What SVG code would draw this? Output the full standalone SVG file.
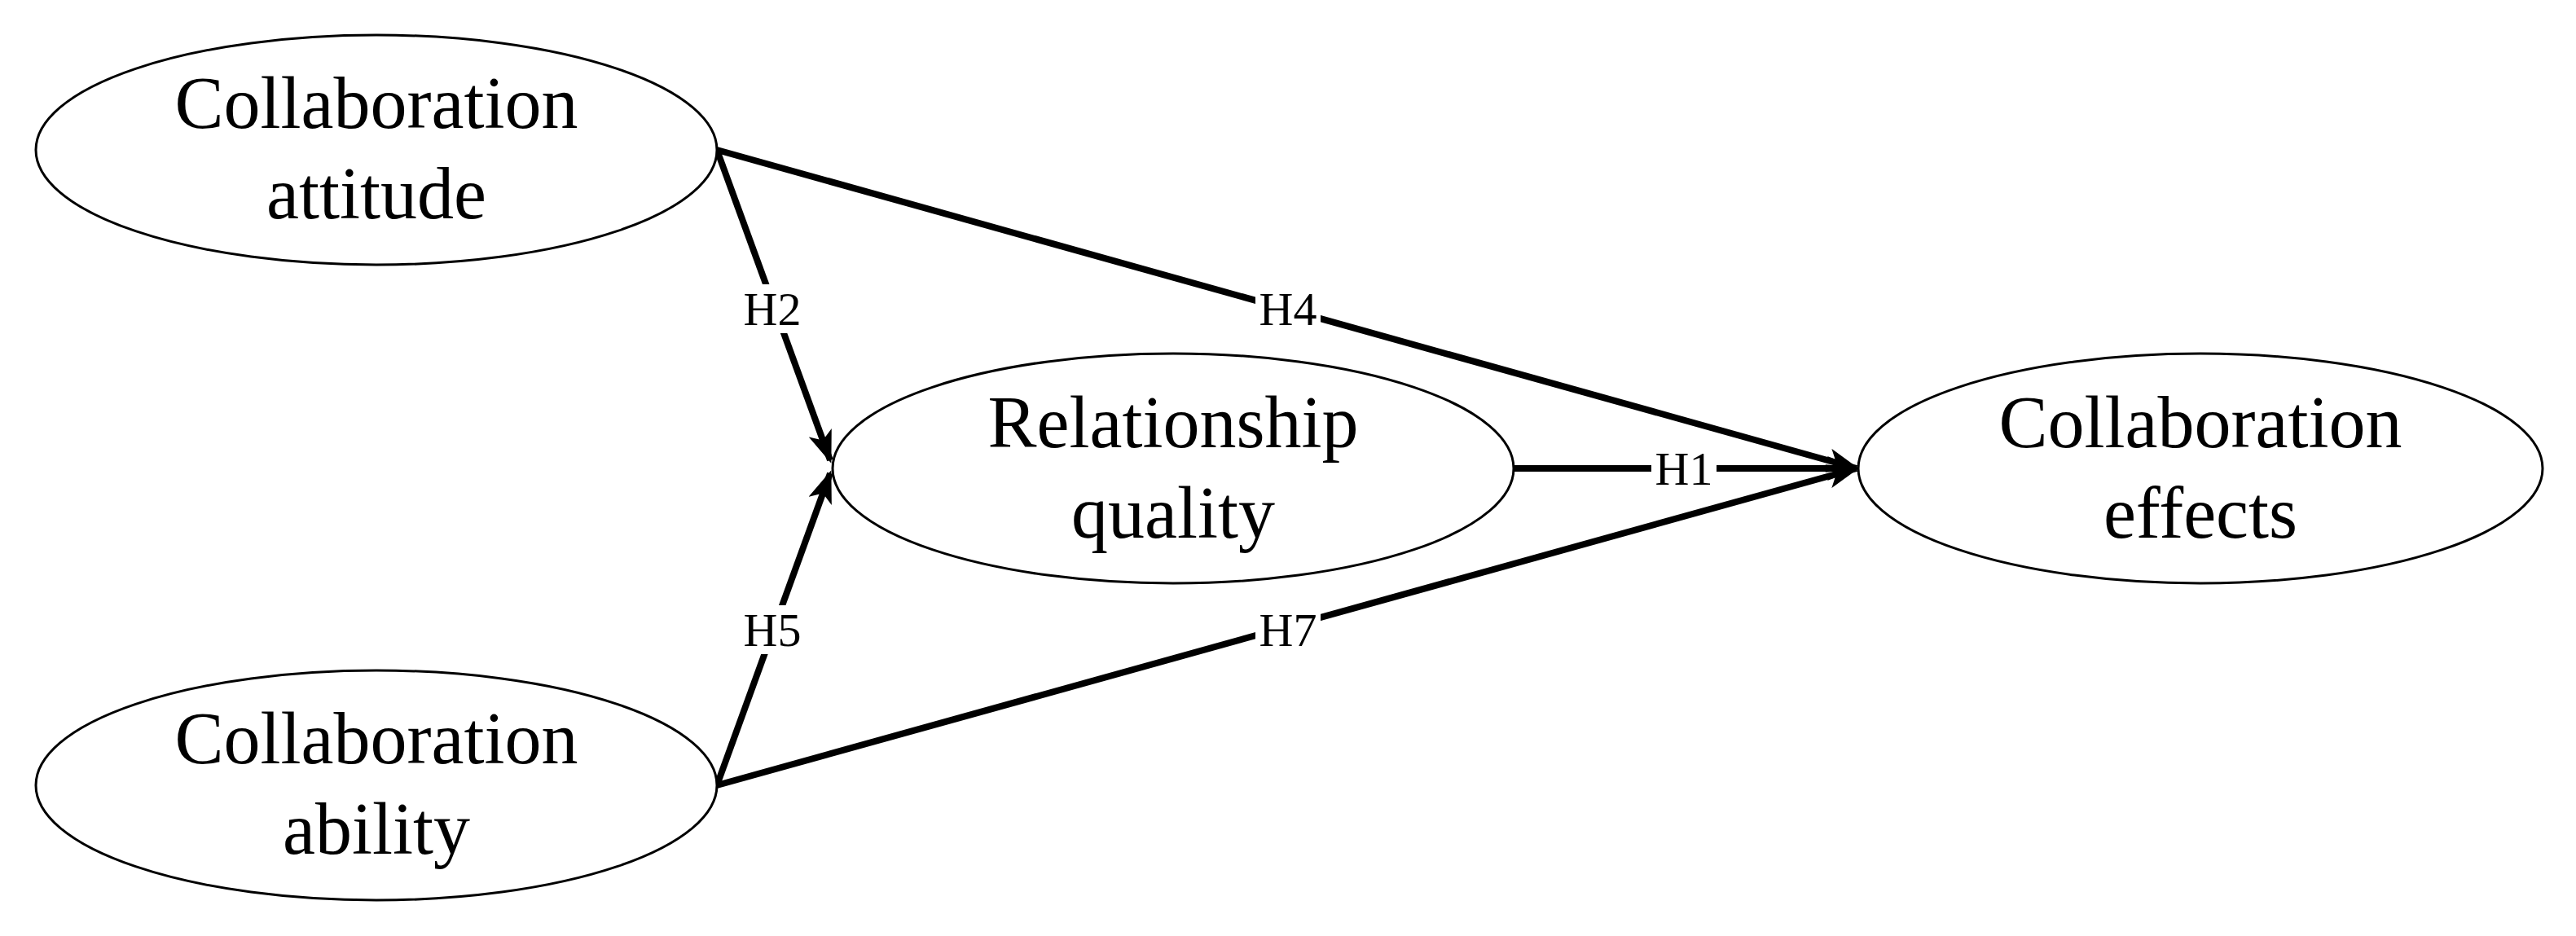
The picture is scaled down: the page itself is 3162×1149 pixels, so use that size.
<svg xmlns="http://www.w3.org/2000/svg" width="3162" height="1149" viewBox="0 0 3162 1149">
<style>
.n{fill:#fff;stroke:#000;stroke-width:3}
.t{font-family:"Liberation Serif","DejaVu Serif",serif;font-size:90px;text-anchor:middle}
.l{font-family:"Liberation Serif","DejaVu Serif",serif;font-size:58px;text-anchor:middle;dominant-baseline:central}
.e{stroke:#000;stroke-width:8;fill:none;marker-end:url(#a)}
.b{fill:#fff}
</style>
<defs><marker id="a" markerUnits="userSpaceOnUse" markerWidth="40" markerHeight="30" refX="36" refY="15" orient="auto"><path d="M0,0 L40,15 L0,30 L10,15 Z" fill="#000"/></marker></defs>
<rect width="3162" height="1149" fill="#fff"/>
<g id="connectors">
<line class="e" x1="880" y1="184" x2="2279" y2="575"/>
<line class="e" x1="880" y1="184" x2="1019" y2="565"/>
<line class="e" x1="880" y1="964" x2="1019" y2="581"/>
<line class="e" x1="880" y1="964" x2="2279" y2="575"/>
<line class="e" x1="1858" y1="575" x2="2279" y2="575"/>
<rect class="b" x="908" y="349" width="80" height="60"/><text class="l" x="948" y="379">H2</text>
<rect class="b" x="1541" y="349" width="80" height="60"/><text class="l" x="1581" y="379">H4</text>
<rect class="b" x="908" y="743" width="80" height="60"/><text class="l" x="948" y="773">H5</text>
<rect class="b" x="1541" y="743" width="80" height="60"/><text class="l" x="1581" y="773">H7</text>
<rect class="b" x="2027" y="545" width="80" height="60"/><text class="l" x="2067" y="575">H1</text>
</g>
<g id="attitude"><ellipse class="n" cx="462" cy="184" rx="418" ry="141"/><text class="t" x="462" y="157">Collaboration</text><text class="t" x="462" y="268">attitude</text></g>
<g id="ability"><ellipse class="n" cx="462" cy="964" rx="418" ry="141"/><text class="t" x="462" y="937">Collaboration</text><text class="t" x="462" y="1048">ability</text></g>
<g id="quality"><ellipse class="n" cx="1440" cy="575" rx="418" ry="141"/><text class="t" x="1440" y="549">Relationship</text><text class="t" x="1440" y="660">quality</text></g>
<g id="effects"><ellipse class="n" cx="2701" cy="575" rx="420" ry="141"/><text class="t" x="2701" y="549">Collaboration</text><text class="t" x="2701" y="660">effects</text></g>
</svg>
